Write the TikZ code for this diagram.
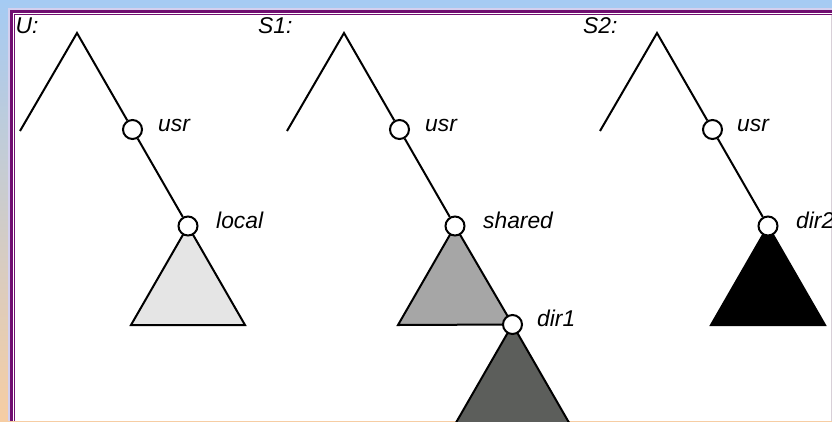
\documentclass[tikz,border=0pt]{standalone}
\usepackage{fontspec}
\setmainfont{Liberation Sans}
\definecolor{bgtop}{RGB}{165,203,243}
\definecolor{bgbot}{RGB}{246,205,163}
\definecolor{purp}{RGB}{112,14,112}
\definecolor{lightband}{RGB}{212,208,238}
\definecolor{edgegray}{RGB}{216,208,216}
\definecolor{gone}{RGB}{229,229,229}
\definecolor{gtwo}{RGB}{166,166,166}
\definecolor{gthree}{RGB}{92,94,91}
\pgfdeclarelayer{back}
\pgfdeclarelayer{bg}
\pgfsetlayers{back,bg,main}
\begin{document}
\begin{tikzpicture}[x=1pt,y=-1pt,
  leg/.style={line width=2pt},
  dirnode/.style={circle,draw,fill=white,line width=2pt,minimum size=19pt,inner sep=0pt},
  tri/.style={draw,line width=2pt,line join=miter},
  lab/.style={anchor=base west,inner sep=0pt,font=\fontsize{22.8}{27}\selectfont\itshape}]
\useasboundingbox (0,0) rectangle (832,421);
% background and frame
\begin{pgfonlayer}{back}
\shade[top color=bgtop,bottom color=bgbot] (0,0) rectangle (832,421);
\fill[white] (10,10) rectangle (832,421);
\draw[lightband,line width=2pt] (9,421) -- (9,9) -- (832,9);
\draw[purp,line width=2.5pt] (11.25,421) -- (11.25,11.25) -- (832,11.25);
\draw[purp,line width=1pt] (14,421) -- (14,14) -- (832,14);
\draw[edgegray,line width=1pt] (831.5,14.5) -- (831.5,421);
\end{pgfonlayer}

% ---------- U ----------
\coordinate (Utop) at (77,33);
\coordinate (Uleft) at (20,131);
\node[dirnode] (Uusr) at (132.5,129.5) {};
\node[dirnode] (Ulocal) at (188,226) {};
\draw[leg] (Uleft) -- (Utop) -- (Uusr) -- (Ulocal);
\begin{pgfonlayer}{bg}
\draw[tri,fill=gone] (Ulocal.center) -- ++(-57,99) -- ++(114,0) -- cycle;
\end{pgfonlayer}
\node[lab] (Utitle) at (15.5,33) {U:};
\node[lab] (Uusrlab) at (158,131) {usr};
\node[lab] (Ulocallab) at (216,228) {local};

% ---------- S1 ----------
\coordinate (Atop) at (344,33);
\coordinate (Aleft) at (287,131);
\node[dirnode] (Ausr) at (399.5,129.5) {};
\node[dirnode] (Ashared) at (455,226) {};
\node[dirnode] (Adir) at (512.5,324.5) {};
\draw[leg] (Aleft) -- (Atop) -- (Ausr) -- (Ashared);
\begin{pgfonlayer}{bg}
\draw[tri,fill=gtwo] (Ashared.center) -- ++(-57,99) -- (Adir.center) -- cycle;
\draw[tri,fill=gthree] (Adir.center) -- ++(-57,99) -- ++(114,0) -- cycle;
\end{pgfonlayer}
\node[lab] (Atitle) at (258,33) {S1:};
\node[lab] (Ausrlab) at (425,131) {usr};
\node[lab] (Asharedlab) at (483,228) {shared};
\node[lab] (Adirlab) at (537,326) {dir1};

% ---------- S2 ----------
\coordinate (Btop) at (657,33);
\coordinate (Bleft) at (600,131);
\node[dirnode] (Busr) at (712.5,129.5) {};
\node[dirnode] (Bdir) at (768,226) {};
\draw[leg] (Bleft) -- (Btop) -- (Busr) -- (Bdir);
\begin{pgfonlayer}{bg}
\draw[tri,fill=black] (Bdir.center) -- ++(-57,99) -- ++(114,0) -- cycle;
\end{pgfonlayer}
\node[lab] (Btitle) at (583,33) {S2:};
\node[lab] (Busrlab) at (737,131) {usr};
\node[lab] (Bdirlab) at (796,228) {dir2};
\end{tikzpicture}
\end{document}
